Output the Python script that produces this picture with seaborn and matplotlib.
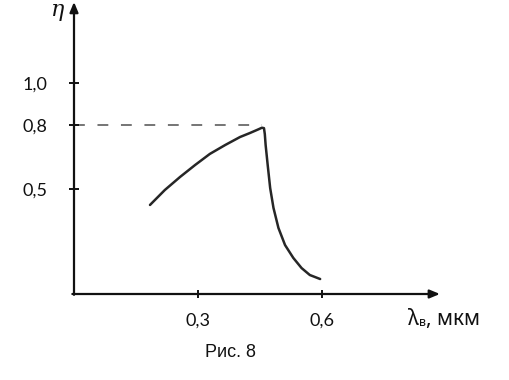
import matplotlib
matplotlib.use("Agg")
import matplotlib.pyplot as plt
import seaborn as sns
import pandas as pd

# ---- data ----
lam = [0.184, 0.220, 0.257, 0.293, 0.329, 0.366, 0.402, 0.426, 0.446, 0.455,
       0.460, 0.462, 0.464, 0.469, 0.475, 0.483, 0.495, 0.511, 0.531, 0.551,
       0.571, 0.596]
eta = [0.422, 0.493, 0.555, 0.611, 0.664, 0.706, 0.744, 0.763, 0.780, 0.788,
       0.786, 0.758, 0.706, 0.611, 0.502, 0.408, 0.313, 0.232, 0.171, 0.123,
       0.090, 0.071]
x_ticks = [0.3, 0.6]
x_tick_labels = ["0,3", "0,6"]
y_ticks = [0.5, 0.8, 1.0]
y_tick_labels = ["0,5", "0,8", "1,0"]
ref_level = 0.8
peak_x = 0.455

sns.set_style("white")
plt.rcParams["font.family"] = ["Lato", "Noto Sans", "DejaVu Sans"]

fig = plt.figure(figsize=(5.1, 3.8), dpi=100)
ax = fig.add_axes([0, 0, 1, 1])
ax.set_xlim(-74 / 413, 436 / 413)
ax.set_ylim(-86 / 211, 294 / 211)
ax.axis("off")

df = pd.DataFrame({"lam": lam, "eta": eta})
sns.lineplot(data=df, x="lam", y="eta", sort=False, estimator=None,
             color="#262626", linewidth=1.8, ax=ax,
             solid_joinstyle="round", solid_capstyle="round")

# dashed reference line at 0.8
ax.plot([0, peak_x], [ref_level, ref_level], color="#6a6a6a",
        linewidth=1.3, dashes=(6, 7))

# axes with arrows
x_end = 0.886
y_end = 1.384
ax.annotate("", xy=(x_end, 0), xytext=(-0.004, 0),
            arrowprops=dict(arrowstyle="-|>,head_length=0.6,head_width=0.25",
                            color="#111111", lw=1.6, shrinkA=0, shrinkB=0))
ax.annotate("", xy=(0, y_end), xytext=(0, -0.004),
            arrowprops=dict(arrowstyle="-|>,head_length=0.6,head_width=0.25",
                            color="#111111", lw=1.6, shrinkA=0, shrinkB=0))

# tick marks
ax.vlines(x_ticks, -0.02, 0.02, color="#111111", lw=1.4)
ax.hlines(y_ticks, -0.012, 0.012, color="#111111", lw=1.4)

# tick labels
for xv, lab in zip(x_ticks, x_tick_labels):
    ax.text(xv, -0.128, lab, ha="center", va="center", fontsize=13,
            color="#111111")
for yv, lab in zip(y_ticks, y_tick_labels):
    ax.text(-0.065, yv - 0.008, lab, ha="right", va="center", fontsize=13,
            color="#111111")

# y label
ax.text(-0.039, 1.346, "η", ha="center", va="center", fontsize=16,
        family="DejaVu Serif", style="italic", color="#111111")

# x label: λ with subscript в, then ", мкм"
fig.canvas.draw()
r = fig.canvas.get_renderer()
t1 = ax.text(0.809, -0.147, "λ", ha="left", va="baseline", fontsize=15,
             family=["Noto Sans", "DejaVu Sans"], color="#111111")
bb = t1.get_window_extent(renderer=r)
inv = ax.transData.inverted()
x2, _ = inv.transform((bb.x1, bb.y0))
t2 = ax.text(x2, -0.150, "в", ha="left", va="baseline", fontsize=9,
             family=["Noto Sans", "DejaVu Sans"], color="#111111")
bb2 = t2.get_window_extent(renderer=r)
x3, _ = inv.transform((bb2.x1, bb2.y0))
ax.text(x3, -0.147, ", мкм", ha="left", va="baseline", fontsize=15,
        family=["Noto Sans", "DejaVu Sans"], color="#111111")

# caption
ax.text(0.378, -0.275, "Рис. 8", ha="center", va="center", fontsize=13,
        family="Liberation Sans", color="#111111")

fig.savefig("out.png", dpi=100)
